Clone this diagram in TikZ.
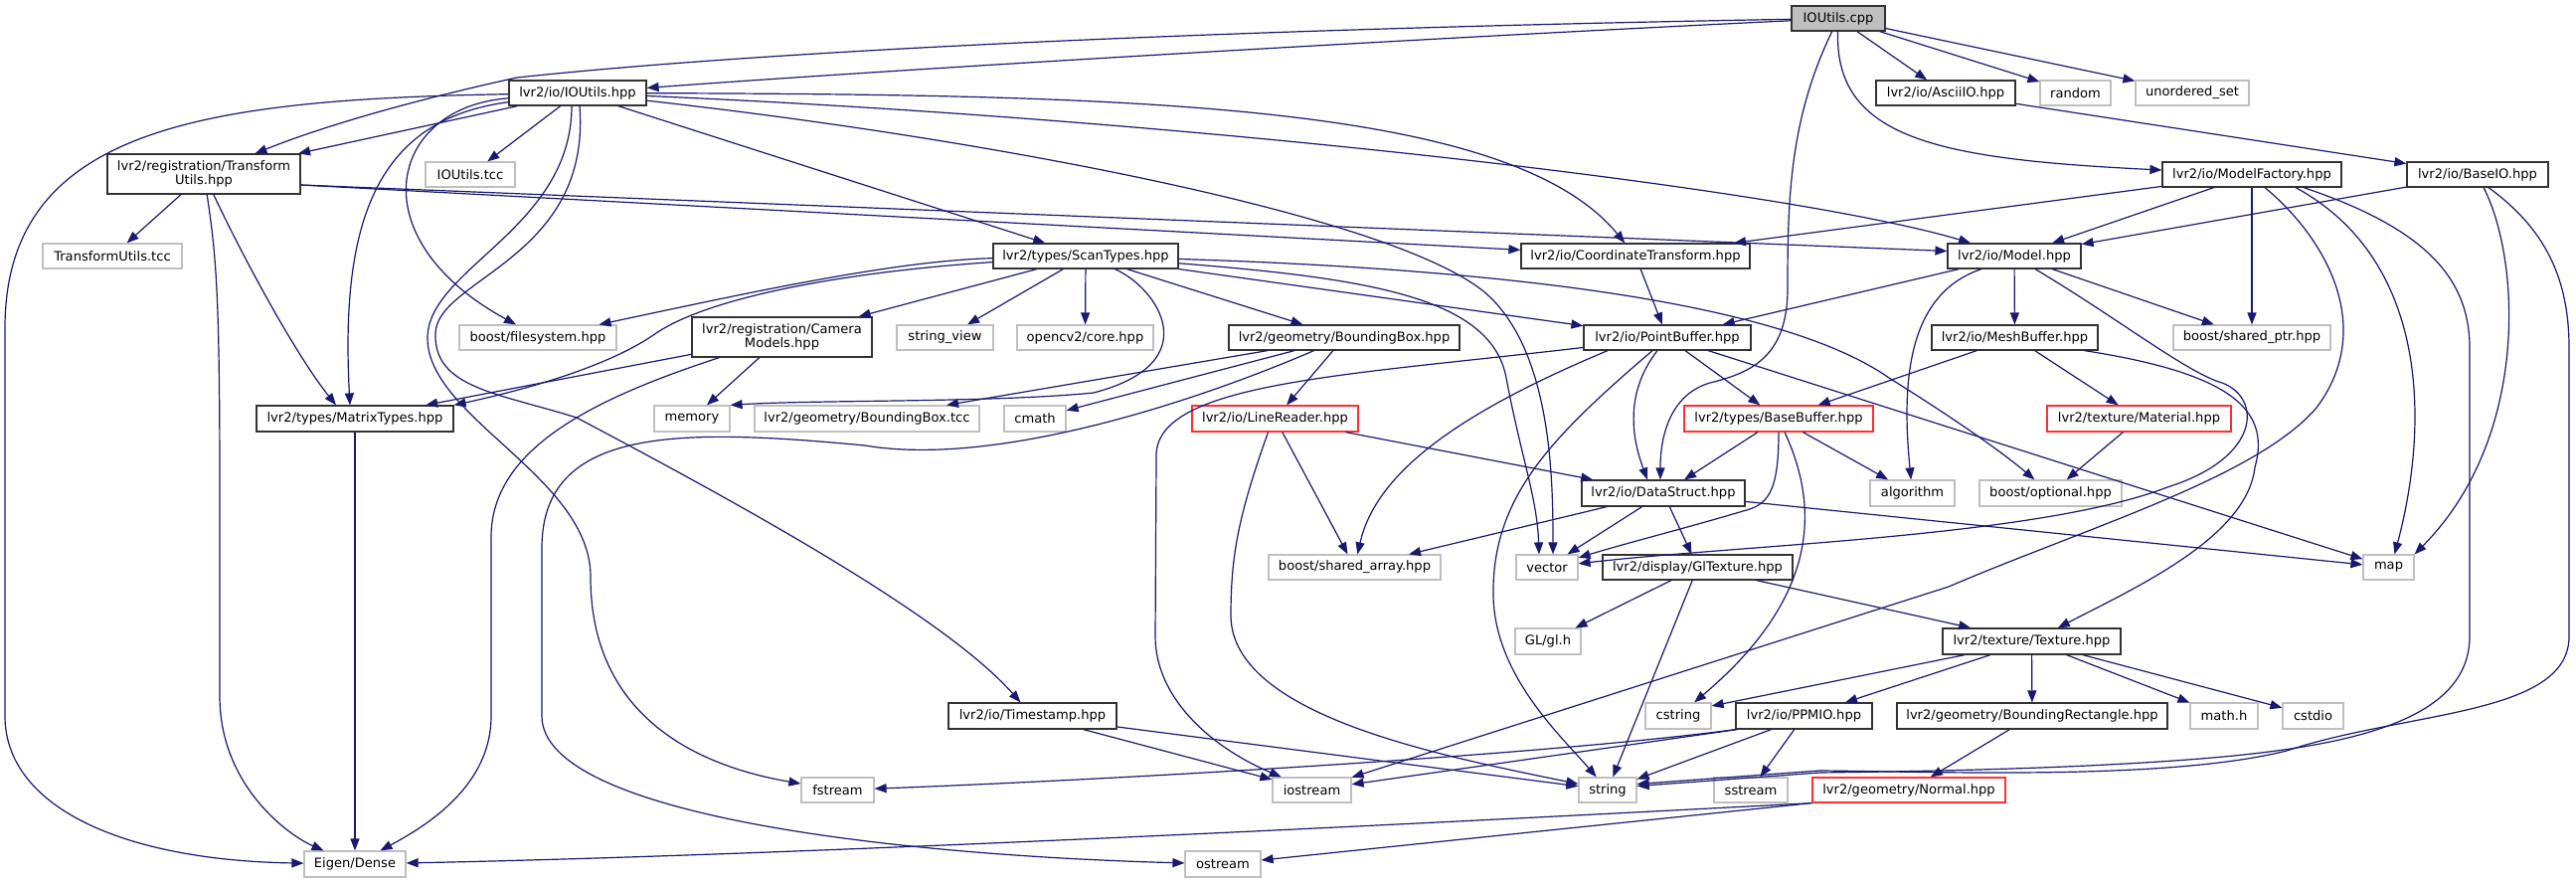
\documentclass[tikz,border=0pt]{standalone}
\usepackage{fontspec}
\setmainfont{DejaVu Sans}
\usetikzlibrary{arrows.meta,calc}
\definecolor{edgec}{HTML}{191970}
\definecolor{grayb}{HTML}{BFBFBF}
\definecolor{boxc}{HTML}{333333}
\definecolor{redb}{HTML}{FF3030}
\newcommand{\twoline}[3]{\vbox{\hbox to #1{\hss #2\hss}\hbox to #1{\hss #3\hss}}}
\begin{document}
\begin{tikzpicture}[x=0.75pt,y=-0.75pt,
  every node/.style={font=\fontsize{9.8}{10.8}\selectfont,inner sep=0pt,text=black},
  nd/.style 2 args={minimum width=#1*0.75pt,minimum height=#2*0.75pt,line width=0.9pt,fill=white},
  blk/.style={draw=boxc},
  gry/.style={draw=grayb},
  rbox/.style={draw=redb},
  rootc/.style={draw=boxc,fill=grayb},
  dep/.style={draw=edgec,line width=0.9pt,-{Triangle[length=9pt,width=6.8pt]}}]
\fill[white] (0,0) rectangle (2591,888);
\useasboundingbox (0,0) rectangle (2591,888);
% nodes
\node[nd={94}{25},rootc] (root) at (1849,18.5) {IOUtils.cpp};
\node[nd={138}{25},blk] (iohpp) at (581,93.5) {lvr2/io/IOUtils.hpp};
\node[nd={140}{25},blk] (ascii) at (1957,93.5) {lvr2/io/AsciiIO.hpp};
\node[nd={71}{25},gry] (random) at (2087.5,93.5) {random};
\node[nd={114}{25},gry] (unord) at (2205,93.5) {unordered\_set};
\node[nd={194}{40},blk] (tu) at (205,175) {\twoline{142pt}{lvr2/registration/Transform}{Utils.hpp}};
\node[nd={90}{25},gry] (iotcc) at (473,175.5) {IOUtils.tcc};
\node[nd={180}{25},blk] (mf) at (2265,175.5) {lvr2/io/ModelFactory.hpp};
\node[nd={142}{25},blk] (baseio) at (2492,175.5) {lvr2/io/BaseIO.hpp};
\node[nd={140}{25},gry] (tutcc) at (113,257.5) {TransformUtils.tcc};
\node[nd={186}{25},blk] (scan) at (1092,257.5) {lvr2/types/ScanTypes.hpp};
\node[nd={230}{25},blk] (ct) at (1645,257.5) {lvr2/io/CoordinateTransform.hpp};
\node[nd={134}{25},blk] (model) at (2026,257.5) {lvr2/io/Model.hpp};
\node[nd={158}{25},gry] (bfs) at (541,339.5) {boost/filesystem.hpp};
\node[nd={181}{40},blk] (cam) at (786.5,339) {\twoline{132pt}{lvr2/registration/Camera}{Models.hpp}};
\node[nd={97}{25},gry] (sv) at (950.5,339.5) {string\_view};
\node[nd={137}{25},gry] (cv) at (1091.5,339.5) {opencv2/core.hpp};
\node[nd={232}{25},blk] (bb) at (1352,339.5) {lvr2/geometry/BoundingBox.hpp};
\node[nd={168}{25},blk] (pb) at (1677,339.5) {lvr2/io/PointBuffer.hpp};
\node[nd={167}{25},blk] (mesh) at (2026.5,339.5) {lvr2/io/MeshBuffer.hpp};
\node[nd={158}{25},gry] (sptr) at (2265,339.5) {boost/shared\_ptr.hpp};
\node[nd={198}{26},blk] (mt) at (357,421) {lvr2/types/MatrixTypes.hpp};
\node[nd={76}{26},gry] (mem) at (696,421) {memory};
\node[nd={226}{26},gry] (bbtcc) at (872,421) {lvr2/geometry/BoundingBox.tcc};
\node[nd={62}{26},gry] (cmath) at (1041,421) {cmath};
\node[nd={167}{26},rbox] (lr) at (1282.5,421) {lvr2/io/LineReader.hpp};
\node[nd={190}{26},rbox] (bbuf) at (1789,421) {lvr2/types/BaseBuffer.hpp};
\node[nd={185}{26},rbox] (mat) at (2151.5,421) {lvr2/texture/Material.hpp};
\node[nd={164}{26},blk] (ds) at (1673,496) {lvr2/io/DataStruct.hpp};
\node[nd={85}{26},gry] (alg) at (1923.5,496) {algorithm};
\node[nd={143}{26},gry] (opt) at (2062.5,496) {boost/optional.hpp};
\node[nd={173}{25},gry] (sarr) at (1362.5,570.5) {boost/shared\_array.hpp};
\node[nd={62}{25},gry] (vec) at (1556,570.5) {vector};
\node[nd={191}{25},blk] (glt) at (1707.5,570.5) {lvr2/display/GlTexture.hpp};
\node[nd={51}{25},gry] (map) at (2402.5,570.5) {map};
\node[nd={66}{26},gry] (gl) at (1557,645) {GL/gl.h};
\node[nd={179}{26},blk] (tex) at (2043.5,645) {lvr2/texture/Texture.hpp};
\node[nd={169}{26},blk] (ts) at (1038.5,720) {lvr2/io/Timestamp.hpp};
\node[nd={66}{26},gry] (cstr) at (1688,720) {cstring};
\node[nd={137}{26},blk] (ppm) at (1814.5,720) {lvr2/io/PPMIO.hpp};
\node[nd={272}{26},blk] (brect) at (2044,720) {lvr2/geometry/BoundingRectangle.hpp};
\node[nd={68}{26},gry] (mathh) at (2237,720) {math.h};
\node[nd={61}{26},gry] (cstdio) at (2326.5,720) {cstdio};
\node[nd={73}{25},gry] (fst) at (842.5,794.5) {fstream};
\node[nd={79}{25},gry] (ios) at (1319.5,794.5) {iostream};
\node[nd={58}{25},gry] (str) at (1617,794.5) {string};
\node[nd={74}{25},gry] (sst) at (1761,794.5) {sstream};
\node[nd={194}{25},rbox] (norm) at (1920,794.5) {lvr2/geometry/Normal.hpp};
\node[nd={102}{26},gry] (eig) at (357,869) {Eigen/Dense};
\node[nd={76}{26},gry] (ost) at (1230,869) {ostream};
% root
\draw[dep] (root) .. controls (1400,40) and (900,70) .. (iohpp);
\draw[dep] (root) .. controls (1300,28) and (800,48) .. (520,78) .. controls (420,100) and (330,125) .. (tu);
\draw[dep] (root) -- (ascii);
\draw[dep] (root) -- (random);
\draw[dep] (root) -- (unord);
\draw[dep] (root) .. controls (1845,140) and (1950,160) .. (mf);
\draw[dep] (root) .. controls (1800,120) and (1798,200) .. (1798,290) .. controls (1798,360) and (1760,375) .. (1720,385) .. controls (1685,395) and (1670,430) .. ($(ds.north)+(-3,0)$);
% IOUtils.hpp
\draw[dep] (iohpp) .. controls (200,100) and (5,130) .. (5,330) -- (5,720) .. controls (5,810) and (120,865) .. (eig);
\draw[dep] (iohpp) -- (tu);
\draw[dep] (iohpp) -- (iotcc);
\draw[dep] (iohpp) .. controls (380,120) and (342,220) .. ($(mt.north)+(-5,0)$);
\draw[dep] (iohpp) .. controls (390,108) and (360,240) .. ($(bfs.north)+(-22,0)$);
\draw[dep] ($(iohpp.south)+(-6,0)$) .. controls (575,230) and (430,270) .. (430,340) .. controls (430,420) and (594,480) .. (594,580) .. controls (594,720) and (700,770) .. (fst);
\draw[dep] ($(iohpp.south)+(2,0)$) .. controls (595,260) and (440,280) .. (438,335) .. controls (436,390) and (500,395) .. (580,420) .. controls (750,510) and (950,620) .. (ts);
\draw[dep] (iohpp) -- (scan);
\draw[dep] (iohpp) .. controls (1000,140) and (1420,220) .. (1500,300) .. controls (1560,360) and (1562,480) .. ($(vec.north)+(6,0)$);
\draw[dep] (iohpp) .. controls (1150,95) and (1520,105) .. (ct);
\draw[dep] (iohpp) .. controls (1200,120) and (1800,190) .. (model);
% TransformUtils
\draw[dep] (tu) -- (tutcc);
\draw[dep] (tu) .. controls (250,270) and (300,360) .. ($(mt.north)+(-19,0)$);
\draw[dep] (tu) .. controls (218,260) and (221,300) .. (221,500) -- (221,700) .. controls (221,790) and (290,840) .. (eig);
\draw[dep] ($(tu.east)+(0,11)$) -- (ct);
\draw[dep] ($(tu.east)+(0,11)$) -- ($(model.west)+(0,-5)$);
% ScanTypes
\draw[dep] (scan) -- (cam);
\draw[dep] (scan) .. controls (900,262) and (750,295) .. (bfs);
\draw[dep] (scan) .. controls (870,272) and (720,295) .. (660,335) .. controls (625,360) and (560,385) .. (mt.north east);
\draw[dep] (scan) -- (sv);
\draw[dep] (scan) -- (cv);
\draw[dep] (scan) .. controls (1165,290) and (1215,365) .. (1100,395) .. controls (1000,405) and (820,402) .. (mem.north east);
\draw[dep] (scan) -- (bb);
\draw[dep] (scan) -- (pb);
\draw[dep] (scan) .. controls (1380,280) and (1500,300) .. (1515,380) .. controls (1530,460) and (1546,500) .. ($(vec.north)+(-8,0)$);
\draw[dep] (scan) .. controls (1550,272) and (1800,310) .. (1900,380) .. controls (1980,430) and (2020,460) .. (opt);
% Camera, MatrixTypes
\draw[dep] (cam) -- (mt);
\draw[dep] (cam) -- (mem);
\draw[dep] (cam) .. controls (600,400) and (494,450) .. (494,540) -- (494,720) .. controls (494,790) and (430,830) .. (eig);
\draw[dep] (mt) -- (eig);
% BoundingBox
\draw[dep] (bb) -- (bbtcc);
\draw[dep] (bb) -- (cmath);
\draw[dep] (bb) -- (lr);
\draw[dep] (bb) .. controls (1200,405) and (1000,470) .. (870,448) .. controls (680,430) and (546,430) .. (545,550) -- (545,720) .. controls (545,820) and (900,860) .. (ost);
% PointBuffer
\draw[dep] (pb) .. controls (1350,378) and (1160,385) .. (1163,460) -- (1162,640) .. controls (1162,700) and (1215,750) .. (ios);
\draw[dep] ($(pb.south)+(-60,0)$) .. controls (1480,410) and (1385,470) .. (sarr);
\draw[dep] ($(pb.south)+(-15,0)$) .. controls (1560,440) and (1500,500) .. (1502,600) .. controls (1504,680) and (1570,740) .. (str);
\draw[dep] ($(pb.south)+(-10,0)$) .. controls (1630,400) and (1645,450) .. ($(ds.north)+(-16,0)$);
\draw[dep] (pb) -- (bbuf);
\draw[dep] (pb) -- (map);
\draw[dep] (ct) -- (pb);
% LineReader
\draw[dep] (lr) -- (sarr);
\draw[dep] ($(lr.south)+(-7,0)$) .. controls (1245,520) and (1238,560) .. (1238,620) .. controls (1240,720) and (1450,760) .. (str);
\draw[dep] (lr) -- (ds);
% Model
\draw[dep] (model) -- (pb);
\draw[dep] ($(model.south)+(-33,0)$) .. controls (1920,295) and (1912,380) .. (alg);
\draw[dep] (model) -- (mesh);
\draw[dep] ($(model.south)+(21,0)$) .. controls (2130,320) and (2200,375) .. (2235,385) .. controls (2275,400) and (2275,460) .. (2180,490) .. controls (2050,540) and (1750,548) .. (vec);
\draw[dep] (model) -- (sptr);
% ModelFactory
\draw[dep] (mf) -- (ct);
\draw[dep] (mf) -- (model);
\draw[dep] (mf) -- (sptr);
\draw[dep] ($(mf.south)+(13,0)$) .. controls (2340,240) and (2390,330) .. (2330,410) .. controls (2270,480) and (2100,530) .. (1960,590) -- (ios);
\draw[dep] ($(mf.south)+(44,0)$) .. controls (2440,260) and (2445,420) .. ($(map.north)+(6,0)$);
\draw[dep] ($(mf.south)+(52,0)$) .. controls (2440,230) and (2484,280) .. (2484,350) -- (2484,640) .. controls (2484,745) and (2300,760) .. (2100,770) .. controls (1990,775) and (1900,776) .. (1830,777) -- ($(str.east)+(0,-4)$);
% AsciiIO, BaseIO
\draw[dep] (ascii) -- (baseio);
\draw[dep] (baseio) -- (model);
\draw[dep] ($(baseio.south)+(6,0)$) .. controls (2535,260) and (2545,440) .. (map.north east);
\draw[dep] ($(baseio.south)+(11,0)$) .. controls (2560,230) and (2584,280) .. (2584,350) -- (2584,640) .. controls (2584,720) and (2420,715) .. (2300,755) .. controls (2180,785) and (1950,776) .. (1830,775) -- ($(str.east)+(0,-6)$);
% MeshBuffer, Material
\draw[dep] (mesh) -- (bbuf);
\draw[dep] (mesh) -- (mat);
\draw[dep] ($(mesh.south)+(70,0)$) .. controls (2240,375) and (2285,410) .. (2268,470) .. controls (2260,540) and (2150,590) .. (tex);
\draw[dep] (mat) -- (opt);
% BaseBuffer
\draw[dep] (bbuf) -- (ds);
\draw[dep] (bbuf) -- (alg);
\draw[dep] (bbuf.south) .. controls (1789,490) and (1780,505) .. (1760,512) .. controls (1700,530) and (1640,545) .. (vec);
\draw[dep] ($(bbuf.south)+(6,0)$) .. controls (1830,510) and (1830,600) .. (cstr);
% DataStruct
\draw[dep] (ds) -- (sarr);
\draw[dep] (ds) -- (vec);
\draw[dep] (ds) -- (glt);
\draw[dep] (ds) -- (map);
% GlTexture
\draw[dep] (glt) -- (gl);
\draw[dep] (glt) -- (str);
\draw[dep] (glt) -- (tex);
% Texture
\draw[dep] (tex) -- ($(cstr.east)+(0,-10)$);
\draw[dep] (tex) -- (ppm);
\draw[dep] (tex) -- (brect);
\draw[dep] (tex) -- (mathh);
\draw[dep] (tex) -- (cstdio);
% PPMIO
\draw[dep] (ppm.south west) .. controls (1550,760) and (1100,785) .. (fst);
\draw[dep] ($(ppm.south west)+(2,0)$) -- (ios);
\draw[dep] ($(ppm.south)+(-33,0)$) -- (str);
\draw[dep] (ppm) -- (sst);
% Timestamp
\draw[dep] (ts) -- (ios);
\draw[dep] (ts) -- (str);
% BoundingRectangle, Normal
\draw[dep] (brect) -- (norm);
\draw[dep] (norm.south west) .. controls (1400,830) and (800,860) .. (eig);
\draw[dep] (norm.south west) -- (ost);
\end{tikzpicture}
\end{document}
